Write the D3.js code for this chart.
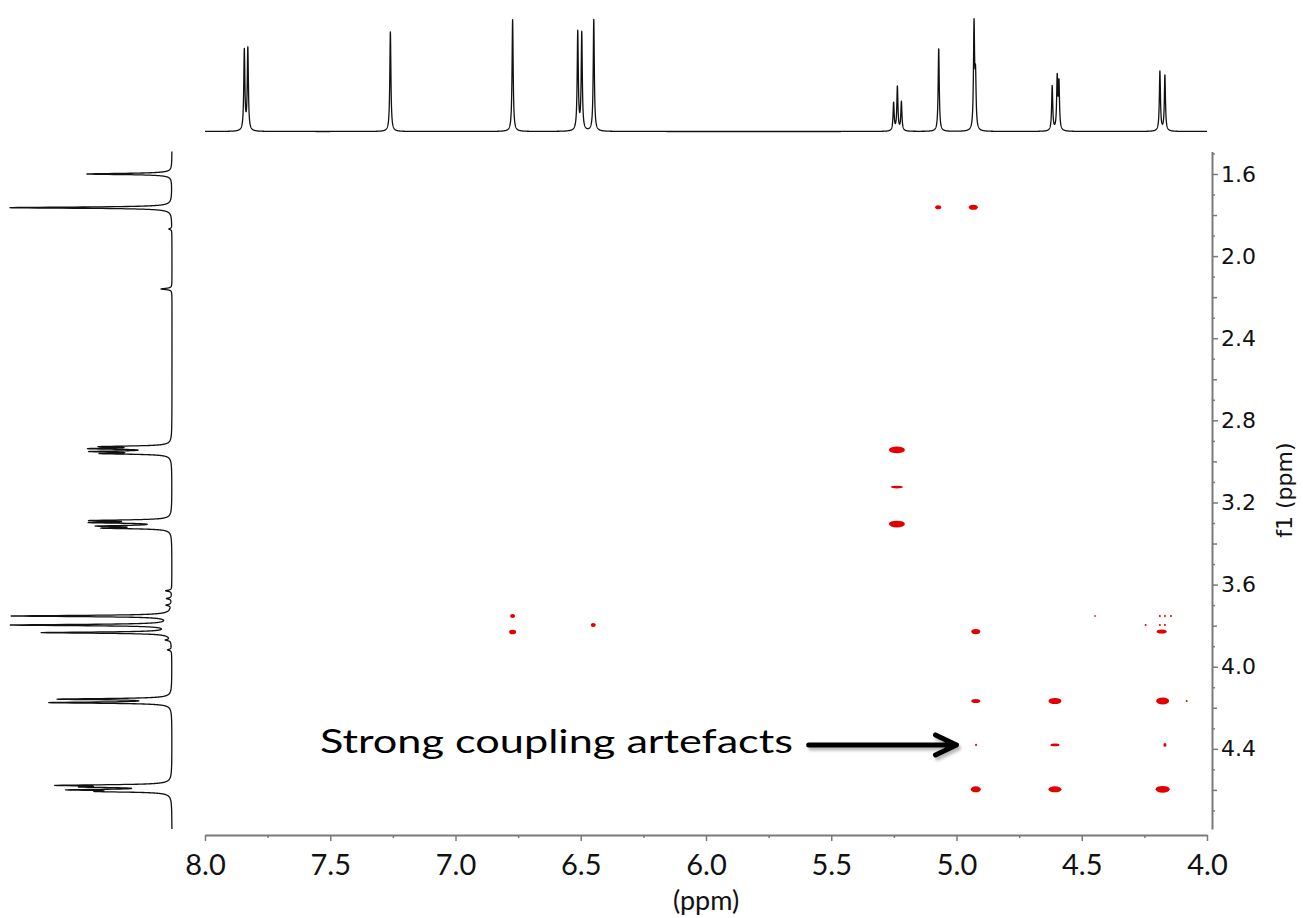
<!DOCTYPE html>
<html>
<head>
<meta charset="utf-8">
<script src="https://cdn.jsdelivr.net/npm/d3@7/dist/d3.min.js"></script>
<style>
  html, body { margin: 0; padding: 0; background: #fff; }
  svg { display: block; }
</style>
</head>
<body>
<svg id="chart" width="1303" height="918"></svg>
<script>
// ---------- DATA ----------
// Top (f2) 1D spectrum peaks: position (ppm) and intensity
const topPeakPpm = [7.843, 7.829, 7.260, 6.772, 6.512, 6.496, 6.448, 5.251, 5.236, 5.220, 5.071, 4.930, 4.924, 4.618, 4.598, 4.591, 4.188, 4.168];
const topPeakInt = [80.7, 82.4, 99.7, 111.7, 98.7, 97.4, 111.7, 28, 44, 29, 83, 105, 50, 44.7, 51.7, 46, 59.7, 55.7];

// Left (f1) 1D spectrum peaks: position (ppm) and intensity
const leftPeakPpm = [1.600, 1.764, 1.868, 2.160, 2.928, 2.938, 2.952, 2.962, 3.288, 3.298, 3.315, 3.325, 3.630, 3.668, 3.700, 3.753, 3.797, 3.834, 3.870, 3.918, 4.158, 4.175, 4.578, 4.586, 4.600, 4.608];
const leftPeakInt = [85, 162, 3, 11, 64, 72, 71, 63, 74, 72, 66, 62, 6, 5, 5, 160, 160, 129, 5, 4, 110, 119, 103, 70, 90, 60];

// 2D cross peaks: f2 (ppm), f1 (ppm), f2 span of multiplet (ppm), relative amplitude
const crossF2   = [5.073, 4.933, 5.238, 5.238, 5.238, 6.772, 6.772, 6.450, 4.923, 4.181, 4.447, 4.188, 4.168, 4.144, 4.245, 4.188, 4.168, 4.923, 4.607, 4.177, 4.081, 4.922, 4.607, 4.168, 4.923, 4.607, 4.177];
const crossF1   = [1.762, 1.762, 2.944, 3.125, 3.305, 3.753, 3.831, 3.797, 3.829, 3.829, 3.753, 3.753, 3.753, 3.753, 3.797, 3.797, 3.797, 4.167, 4.167, 4.167, 4.167, 4.381, 4.381, 4.381, 4.597, 4.597, 4.597];
const crossSpan = [0.024, 0.036, 0.064, 0.048, 0.064, 0.020, 0.028, 0.020, 0.036, 0.040, 0.006, 0.008, 0.008, 0.008, 0.008, 0.008, 0.008, 0.036, 0.052, 0.052, 0.008, 0.008, 0.036, 0.012, 0.040, 0.052, 0.056];
const crossAmp  = [0.5, 0.7, 1.0, 0.3, 1.0, 0.5, 0.6, 0.5, 0.7, 0.5, 0.15, 0.15, 0.15, 0.15, 0.15, 0.15, 0.15, 0.5, 0.9, 1.0, 0.15, 0.2, 0.3, 0.45, 0.85, 0.85, 1.0];

// Axis ticks
const xTickLabels = [8.0, 7.5, 7.0, 6.5, 6.0, 5.5, 5.0, 4.5, 4.0];
const xMinorTicks = [7.75, 7.25, 6.75, 6.25, 5.75, 5.25, 4.75, 4.25];
const yTickLabels = [1.6, 2.0, 2.4, 2.8, 3.2, 3.6, 4.0, 4.4];
const yMidTicks   = [1.8, 2.2, 2.6, 3.0, 3.4, 3.8, 4.2, 4.6];
const yMinorTicks = [1.5, 1.7, 1.9, 2.1, 2.3, 2.5, 2.7, 2.9, 3.1, 3.3, 3.5, 3.7, 3.9, 4.1, 4.3, 4.5, 4.7];

const annotationText = "Strong coupling artefacts";
const arrowFrom = [5.59, 4.381];
const arrowTo   = [5.00, 4.381];

// ---------- SCALES ----------
const svg = d3.select("#chart");
const x = d3.scaleLinear().domain([8.0, 4.0]).range([205, 1207]);
const y = d3.scaleLinear().domain([1.49, 4.79]).range([151.4, 828.9]);
const topInt = d3.scaleLinear().domain([0, 100]).range([131.5, 31.5]);
const leftInt = d3.scaleLinear().domain([0, 100]).range([172, 72]);
const ampToRy = d3.scaleLinear().domain([0, 1]).range([0.6, 3.4]);

// Lorentzian line shape from the peak lists
function spectrum(ppms, ints, hw, lo, hi, step) {
  const pts = [];
  for (let p = lo; p <= hi + 1e-9; p += step) {
    let s = 0;
    for (let i = 0; i < ppms.length; i++) {
      const d = (p - ppms[i]) / hw;
      s += ints[i] / (1 + d * d);
    }
    pts.push([p, s]);
  }
  return pts;
}

// ---------- TOP SPECTRUM ----------
const topData = spectrum(topPeakPpm, topPeakInt, 0.0026, 4.0, 8.0, 0.0004);
svg.append("path")
  .datum(topData)
  .attr("fill", "none")
  .attr("stroke", "#111")
  .attr("stroke-width", 1.3)
  .attr("stroke-linejoin", "round")
  .attr("d", d3.line().x(d => x(d[0])).y(d => topInt(d[1])));

// ---------- LEFT SPECTRUM ----------
const leftData = spectrum(leftPeakPpm, leftPeakInt, 0.0035, 1.49, 4.79, 0.0004);
svg.append("path")
  .datum(leftData)
  .attr("fill", "none")
  .attr("stroke", "#111")
  .attr("stroke-width", 1.3)
  .attr("stroke-linejoin", "round")
  .attr("d", d3.line().x(d => leftInt(d[1])).y(d => y(d[0])));

// ---------- CROSS PEAKS ----------
const defs = svg.append("defs");
defs.append("filter").attr("id", "soft")
  .attr("x", "-50%").attr("y", "-100%").attr("width", "200%").attr("height", "300%")
  .append("feGaussianBlur").attr("stdDeviation", 0.6);
const shadow = defs.append("filter").attr("id", "shadow")
  .attr("x", "-20%").attr("y", "-50%").attr("width", "140%").attr("height", "200%");
shadow.append("feGaussianBlur").attr("stdDeviation", 1.6);

const cross = crossF2.map((f2, i) => ({ f2, f1: crossF1[i], span: crossSpan[i], amp: crossAmp[i] }));
svg.append("g").attr("filter", "url(#soft)")
  .selectAll("ellipse").data(cross).join("ellipse")
  .attr("cx", d => x(d.f2))
  .attr("cy", d => y(d.f1))
  .attr("rx", d => Math.max(0.8, Math.abs(x(d.f2 + d.span / 2) - x(d.f2))))
  .attr("ry", d => ampToRy(d.amp))
  .attr("fill", "#e30000");

// ---------- X AXIS ----------
const axisColor = "#7a7a7a";
const gx = svg.append("g").attr("transform", "translate(0,835)");
gx.call(d3.axisBottom(x).tickValues(xTickLabels).tickSize(6).tickSizeOuter(0).tickFormat(d3.format(".1f")));
const gxm = svg.append("g").attr("transform", "translate(0,835)");
gxm.call(d3.axisBottom(x).tickValues(xMinorTicks).tickSize(3).tickSizeOuter(0).tickFormat(""));
gxm.select(".domain").remove();
[gx, gxm].forEach(g => {
  g.selectAll("line").attr("stroke", axisColor).attr("stroke-width", 1.5);
  g.select(".domain").attr("stroke", axisColor).attr("stroke-width", 2);
});
gx.selectAll("text")
  .attr("y", 40).attr("dy", 0)
  .attr("fill", "#111")
  .style("font-family", "Lato, 'Open Sans', sans-serif")
  .style("font-size", "29px");

svg.append("text")
  .attr("x", x(6.0)).attr("y", 910)
  .attr("text-anchor", "middle")
  .attr("fill", "#111")
  .style("font-family", "Lato, 'Open Sans', sans-serif")
  .style("font-size", "27px")
  .text("(ppm)");

// ---------- Y AXIS (right) ----------
const gy = svg.append("g").attr("transform", "translate(1212,0)");
gy.call(d3.axisRight(y).tickValues(yTickLabels).tickSize(6).tickPadding(3).tickSizeOuter(0).tickFormat(d3.format(".1f")));
const gym = svg.append("g").attr("transform", "translate(1212,0)");
gym.call(d3.axisRight(y).tickValues(yMidTicks).tickSize(5).tickSizeOuter(0).tickFormat(""));
gym.select(".domain").remove();
const gyn = svg.append("g").attr("transform", "translate(1212,0)");
gyn.call(d3.axisRight(y).tickValues(yMinorTicks).tickSize(3).tickSizeOuter(0).tickFormat(""));
gyn.select(".domain").remove();
[gy, gym, gyn].forEach(g => {
  g.selectAll("line").attr("stroke", axisColor).attr("stroke-width", 1.5);
  g.select(".domain").attr("stroke", axisColor).attr("stroke-width", 2);
});
gy.selectAll("text")
  .attr("fill", "#111")
  .style("font-family", "'DejaVu Sans', Verdana, sans-serif")
  .style("font-size", "22px");

svg.append("text")
  .attr("transform", `translate(1292,${y(3.14)}) rotate(-90)`)
  .attr("text-anchor", "middle")
  .attr("fill", "#111")
  .style("font-family", "'DejaVu Sans', Verdana, sans-serif")
  .style("font-size", "22px")
  .text("f1 (ppm)");

// ---------- ANNOTATION ----------
function arrowPath(ax1, ay1, ax2, ay2) {
  return `M${ax1},${ay1} L${ax2 - 3},${ay2} M${ax2 - 21},${ay2 - 10} L${ax2},${ay2} L${ax2 - 21},${ay2 + 10}`;
}
const ax1 = x(arrowFrom[0]), ay1 = y(arrowFrom[1]), ax2 = x(arrowTo[0]), ay2 = y(arrowTo[1]);
svg.append("path")
  .attr("d", arrowPath(ax1 + 2, ay1 + 3, ax2 + 2, ay2 + 3))
  .attr("fill", "none").attr("stroke", "#888").attr("stroke-opacity", 0.6)
  .attr("stroke-width", 5).attr("stroke-linecap", "round").attr("stroke-linejoin", "round")
  .attr("filter", "url(#shadow)");
svg.append("path")
  .attr("d", arrowPath(ax1, ay1, ax2, ay2))
  .attr("fill", "none").attr("stroke", "#000")
  .attr("stroke-width", 5).attr("stroke-linecap", "round").attr("stroke-linejoin", "round");

svg.append("text")
  .attr("x", 320).attr("y", 753)
  .attr("fill", "#000")
  .attr("textLength", 473)
  .attr("lengthAdjust", "spacingAndGlyphs")
  .style("font-family", "Lato, 'Open Sans', sans-serif")
  .style("font-size", "33px")
  .text(annotationText);
</script>
</body>
</html>
